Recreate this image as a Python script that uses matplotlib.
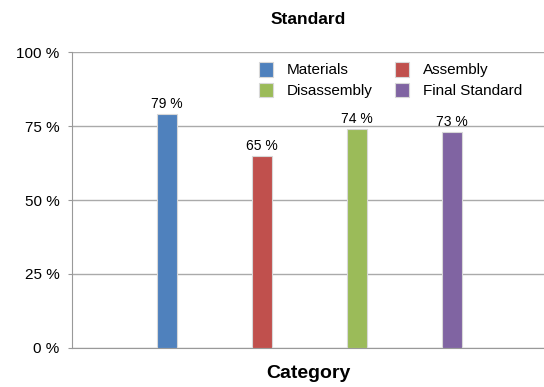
import numpy as np
import matplotlib.pyplot as plt

series = ['Materials', 'Assembly', 'Disassembly', 'Final Standard']
values = [79, 65, 74, 73]
colors = ['#4F81BD', '#C0504D', '#9BBB59', '#8064A2']
yticks = [0, 25, 50, 75, 100]

plt.rcParams['font.family'] = ['Liberation Sans', 'DejaVu Sans']

fig = plt.figure(figsize=(5.44, 3.87), dpi=100)
ax = fig.add_axes([0.1324, 0.1008, 0.8676, 0.7648])

x = np.arange(len(series))
bars = ax.bar(x, values, width=0.21, color=colors, edgecolor='#d8d8d8',
              linewidth=0.8, label=series, zorder=3)
for b, v in zip(bars, values):
    ax.text(b.get_x() + b.get_width() / 2, v + 1.0, '%d %%' % v,
            ha='center', va='bottom', fontsize=10)

ax.set_xlim(-1.0, 3.97)
ax.set_ylim(0, 100)
ax.set_yticks(yticks)
ax.set_yticklabels(['%d %%' % t for t in yticks], fontsize=11)
ax.set_xticks([])
ax.yaxis.grid(True, color='#aaaaaa', linewidth=1, zorder=0)
ax.tick_params(axis='y', length=3, color='#999999', pad=6)
for s in ['top', 'right']:
    ax.spines[s].set_visible(False)
for s in ['left', 'bottom']:
    ax.spines[s].set_color('#999999')

ax.set_xlabel('Category', fontsize=14, fontweight='bold', labelpad=12)
ax.set_title('Standard', fontsize=12.5, fontweight='bold', pad=20)

# legend reads row by row: Materials, Assembly / Disassembly, Final Standard
order = [0, 2, 1, 3]
ax.legend([bars[i] for i in order], [series[i] for i in order],
          ncol=2, frameon=False, loc='upper left', bbox_to_anchor=(0.375, 1.0),
          fontsize=11, handlelength=0.9, handleheight=1.1, handletextpad=0.9,
          columnspacing=1.5, labelspacing=0.35, borderaxespad=0.25)

fig.savefig('out.png', dpi=100)
